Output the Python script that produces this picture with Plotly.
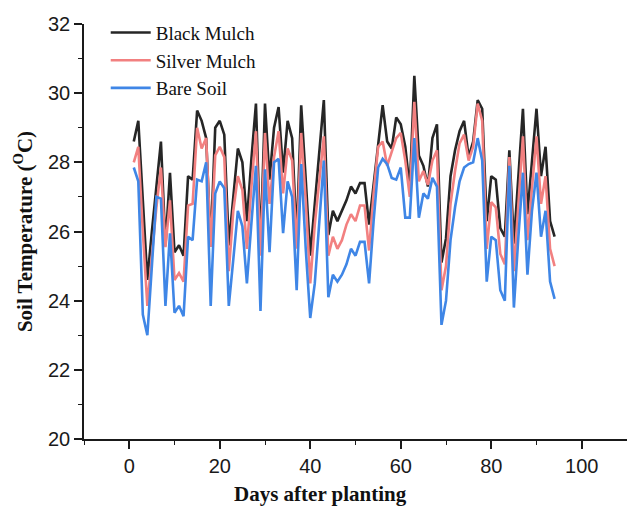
import plotly.graph_objects as go

days = list(range(1, 95))

black_mulch = [
    28.6, 29.2, 26.9, 24.6, 26.0, 27.3, 28.6, 25.6, 27.7, 25.4,
    25.6, 25.3, 27.6, 27.5, 29.5, 29.2, 28.7, 25.6, 29.0, 29.2,
    28.8, 25.6, 27.0, 28.4, 28.0, 26.3, 28.1, 29.7, 25.5, 29.7,
    27.5, 29.0, 29.6, 27.7, 29.2, 28.7, 25.8, 29.65, 27.5, 25.3,
    26.8, 28.35, 29.8, 25.9, 26.6, 26.3, 26.6, 26.9, 27.3, 27.1,
    27.4, 27.4, 26.2, 27.4, 28.6, 29.65, 28.6, 28.4, 29.3, 29.1,
    28.45, 27.25, 30.5, 28.2, 27.9, 27.3, 28.7, 29.1, 25.1, 25.8,
    27.6, 28.35, 28.9, 29.2, 28.15, 28.6, 29.8, 29.55, 26.3, 27.6,
    27.5, 26.1, 25.85, 28.35, 25.65, 27.6, 29.55, 26.5, 28.1, 29.55,
    27.6, 28.45, 26.3, 25.85,
]

silver_mulch = [
    28.0, 28.45, 26.0, 23.85, 25.3, 26.7, 27.85, 25.55, 26.9, 24.6,
    24.8, 24.55, 26.75, 26.8, 29.0, 28.4, 28.7, 25.55, 28.2, 28.45,
    28.15, 24.85, 26.6, 27.6, 27.2, 25.5, 27.3, 28.9, 25.3, 28.85,
    26.8, 28.15, 28.9, 27.1, 28.4, 28.05, 25.5, 28.85, 26.9, 24.5,
    26.2, 27.5, 28.75, 25.3, 25.85, 25.5, 25.75, 26.2, 26.5, 26.3,
    26.75, 26.75, 25.45, 27.1, 28.45, 28.6, 27.9, 28.3, 28.7, 28.85,
    28.05, 27.0, 29.75, 27.45, 27.75, 27.35, 28.05, 28.35, 24.3, 25.0,
    26.8, 27.75, 28.55, 28.8, 28.05, 28.45, 29.7, 29.2, 25.5, 26.85,
    26.7, 25.35, 25.05, 28.15, 24.85, 26.8, 28.75, 25.75, 27.3, 28.75,
    26.8, 27.6, 25.5, 25.0,
]

bare_soil = [
    27.85, 27.45, 23.6, 23.0, 25.0, 27.0, 26.95, 23.85, 25.95, 23.65,
    23.85, 23.55, 25.85, 25.75, 27.5, 27.45, 28.0, 23.85, 27.1, 27.45,
    27.25, 23.85, 25.2, 26.6, 26.15, 24.5, 26.25, 27.9, 23.7, 27.8,
    25.4, 28.0, 28.1, 25.95, 27.45, 27.0, 24.3, 27.95, 25.5, 23.5,
    24.5, 26.3, 28.05, 24.1, 24.75, 24.55, 24.75, 25.05, 25.5, 25.3,
    25.7, 25.7, 24.5, 26.3, 27.85, 28.1, 27.95, 27.55, 27.5, 27.85,
    26.4, 26.4, 28.7, 26.4, 27.1, 26.95, 27.55, 27.3, 23.3, 24.0,
    25.75, 26.7, 27.45, 27.85, 27.95, 28.0, 28.7, 28.05, 24.55, 25.85,
    25.75, 24.3, 24.0, 27.9, 23.8, 25.85, 27.7, 24.75, 26.6, 27.7,
    25.85, 26.6, 24.55, 24.05,
]

series_names = ["Black Mulch", "Silver Mulch", "Bare Soil"]
series_values = [black_mulch, silver_mulch, bare_soil]
series_colors = ["#262626", "#f28080", "#3f86e6"]

fig = go.Figure()
for name, vals, col in zip(series_names, series_values, series_colors):
    fig.add_trace(go.Scatter(
        x=days, y=vals, mode="lines", name=name,
        line=dict(color=col, width=2.6),
    ))

axis_font = dict(family="Liberation Sans, Arial, sans-serif", size=20, color="#1a1a1a")
title_font = dict(family="Liberation Serif, Times New Roman, serif", size=21, color="#111111")

fig.update_layout(
    width=627, height=507,
    margin=dict(l=84, r=0, t=24, b=68),
    paper_bgcolor="white", plot_bgcolor="white",
    showlegend=True,
    legend=dict(
        x=0.04, y=1.025, xanchor="left", yanchor="top",
        bgcolor="rgba(0,0,0,0)",
        font=dict(family="Liberation Serif, Times New Roman, serif", size=19, color="#111111"),
        tracegroupgap=0, itemwidth=40,
    ),
    xaxis=dict(
        range=[-10, 110], tick0=0, dtick=20,
        showgrid=False, zeroline=False,
        showline=True, linecolor="#1a1a1a", linewidth=1.5,
        ticks="outside", ticklen=8, tickwidth=1.5, tickcolor="#1a1a1a",
        tickfont=axis_font,
        minor=dict(dtick=10, tick0=0, ticks="outside", ticklen=4, tickwidth=1.2, tickcolor="#1a1a1a"),
    ),
    yaxis=dict(
        range=[20, 32], tick0=20, dtick=2,
        showgrid=False, zeroline=False,
        showline=True, linecolor="#1a1a1a", linewidth=1.5,
        ticks="outside", ticklen=8, tickwidth=1.5, tickcolor="#1a1a1a",
        tickfont=axis_font,
        minor=dict(dtick=1, tick0=20, ticks="outside", ticklen=4, tickwidth=1.2, tickcolor="#1a1a1a"),
        title=dict(text="<b>Soil Temperature (<sup>O</sup>C)</b>", font=title_font, standoff=10),
    ),
    annotations=[dict(
        text="<b>Days after planting</b>", xref="paper", yref="paper",
        x=0.435, y=-0.133, xanchor="center", yanchor="middle", showarrow=False,
        font=title_font,
    )],
)

fig.write_html("out.html")
